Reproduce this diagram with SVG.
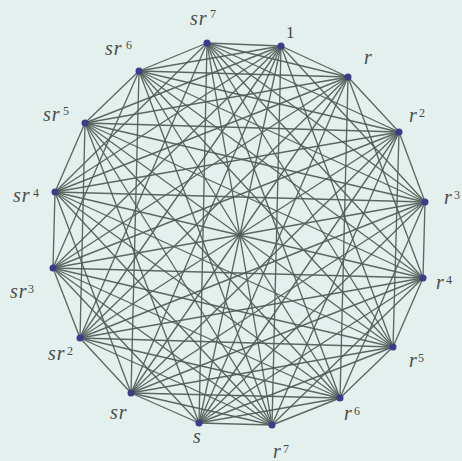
<svg xmlns="http://www.w3.org/2000/svg" width="462" height="461" viewBox="0 0 462 461">
<style>
.e{stroke:#505b56;stroke-width:1.35;stroke-opacity:0.92;fill:none}
.v{fill:#3c3c8c}
.l{font-family:"Liberation Serif","Times New Roman",serif;font-style:italic;font-size:20px;fill:#4a4a4a;letter-spacing:1px}
.p{font-style:normal;font-size:12px;letter-spacing:0}
.one{font-family:"Liberation Serif","Times New Roman",serif;font-size:17px;fill:#4a4a4a}
</style>
<rect width="462" height="461" fill="#e3f0ee"/>
<g id="edges">
<line class="e" x1="281" y1="46" x2="348" y2="77"/>
<line class="e" x1="281" y1="46" x2="425" y2="202"/>
<line class="e" x1="281" y1="46" x2="393" y2="347"/>
<line class="e" x1="281" y1="46" x2="272" y2="425"/>
<line class="e" x1="281" y1="46" x2="199" y2="423"/>
<line class="e" x1="281" y1="46" x2="131" y2="393"/>
<line class="e" x1="281" y1="46" x2="80" y2="338"/>
<line class="e" x1="281" y1="46" x2="53" y2="268"/>
<line class="e" x1="281" y1="46" x2="55" y2="192"/>
<line class="e" x1="281" y1="46" x2="85" y2="123"/>
<line class="e" x1="281" y1="46" x2="139" y2="71"/>
<line class="e" x1="281" y1="46" x2="207" y2="43"/>
<line class="e" x1="348" y1="77" x2="399" y2="132"/>
<line class="e" x1="348" y1="77" x2="423" y2="278"/>
<line class="e" x1="348" y1="77" x2="340" y2="398"/>
<line class="e" x1="348" y1="77" x2="199" y2="423"/>
<line class="e" x1="348" y1="77" x2="131" y2="393"/>
<line class="e" x1="348" y1="77" x2="80" y2="338"/>
<line class="e" x1="348" y1="77" x2="53" y2="268"/>
<line class="e" x1="348" y1="77" x2="55" y2="192"/>
<line class="e" x1="348" y1="77" x2="85" y2="123"/>
<line class="e" x1="348" y1="77" x2="139" y2="71"/>
<line class="e" x1="348" y1="77" x2="207" y2="43"/>
<line class="e" x1="399" y1="132" x2="425" y2="202"/>
<line class="e" x1="399" y1="132" x2="393" y2="347"/>
<line class="e" x1="399" y1="132" x2="272" y2="425"/>
<line class="e" x1="399" y1="132" x2="199" y2="423"/>
<line class="e" x1="399" y1="132" x2="131" y2="393"/>
<line class="e" x1="399" y1="132" x2="80" y2="338"/>
<line class="e" x1="399" y1="132" x2="53" y2="268"/>
<line class="e" x1="399" y1="132" x2="55" y2="192"/>
<line class="e" x1="399" y1="132" x2="85" y2="123"/>
<line class="e" x1="399" y1="132" x2="139" y2="71"/>
<line class="e" x1="399" y1="132" x2="207" y2="43"/>
<line class="e" x1="425" y1="202" x2="423" y2="278"/>
<line class="e" x1="425" y1="202" x2="340" y2="398"/>
<line class="e" x1="425" y1="202" x2="199" y2="423"/>
<line class="e" x1="425" y1="202" x2="131" y2="393"/>
<line class="e" x1="425" y1="202" x2="80" y2="338"/>
<line class="e" x1="425" y1="202" x2="53" y2="268"/>
<line class="e" x1="425" y1="202" x2="55" y2="192"/>
<line class="e" x1="425" y1="202" x2="85" y2="123"/>
<line class="e" x1="425" y1="202" x2="139" y2="71"/>
<line class="e" x1="425" y1="202" x2="207" y2="43"/>
<line class="e" x1="423" y1="278" x2="393" y2="347"/>
<line class="e" x1="423" y1="278" x2="272" y2="425"/>
<line class="e" x1="423" y1="278" x2="199" y2="423"/>
<line class="e" x1="423" y1="278" x2="131" y2="393"/>
<line class="e" x1="423" y1="278" x2="80" y2="338"/>
<line class="e" x1="423" y1="278" x2="53" y2="268"/>
<line class="e" x1="423" y1="278" x2="55" y2="192"/>
<line class="e" x1="423" y1="278" x2="85" y2="123"/>
<line class="e" x1="423" y1="278" x2="139" y2="71"/>
<line class="e" x1="423" y1="278" x2="207" y2="43"/>
<line class="e" x1="393" y1="347" x2="340" y2="398"/>
<line class="e" x1="393" y1="347" x2="199" y2="423"/>
<line class="e" x1="393" y1="347" x2="131" y2="393"/>
<line class="e" x1="393" y1="347" x2="80" y2="338"/>
<line class="e" x1="393" y1="347" x2="53" y2="268"/>
<line class="e" x1="393" y1="347" x2="55" y2="192"/>
<line class="e" x1="393" y1="347" x2="85" y2="123"/>
<line class="e" x1="393" y1="347" x2="139" y2="71"/>
<line class="e" x1="393" y1="347" x2="207" y2="43"/>
<line class="e" x1="340" y1="398" x2="272" y2="425"/>
<line class="e" x1="340" y1="398" x2="199" y2="423"/>
<line class="e" x1="340" y1="398" x2="131" y2="393"/>
<line class="e" x1="340" y1="398" x2="80" y2="338"/>
<line class="e" x1="340" y1="398" x2="53" y2="268"/>
<line class="e" x1="340" y1="398" x2="55" y2="192"/>
<line class="e" x1="340" y1="398" x2="85" y2="123"/>
<line class="e" x1="340" y1="398" x2="139" y2="71"/>
<line class="e" x1="340" y1="398" x2="207" y2="43"/>
<line class="e" x1="272" y1="425" x2="199" y2="423"/>
<line class="e" x1="272" y1="425" x2="131" y2="393"/>
<line class="e" x1="272" y1="425" x2="80" y2="338"/>
<line class="e" x1="272" y1="425" x2="53" y2="268"/>
<line class="e" x1="272" y1="425" x2="55" y2="192"/>
<line class="e" x1="272" y1="425" x2="85" y2="123"/>
<line class="e" x1="272" y1="425" x2="139" y2="71"/>
<line class="e" x1="272" y1="425" x2="207" y2="43"/>
<line class="e" x1="199" y1="423" x2="131" y2="393"/>
<line class="e" x1="199" y1="423" x2="53" y2="268"/>
<line class="e" x1="199" y1="423" x2="85" y2="123"/>
<line class="e" x1="199" y1="423" x2="207" y2="43"/>
<line class="e" x1="131" y1="393" x2="80" y2="338"/>
<line class="e" x1="131" y1="393" x2="55" y2="192"/>
<line class="e" x1="131" y1="393" x2="139" y2="71"/>
<line class="e" x1="80" y1="338" x2="53" y2="268"/>
<line class="e" x1="80" y1="338" x2="85" y2="123"/>
<line class="e" x1="80" y1="338" x2="207" y2="43"/>
<line class="e" x1="53" y1="268" x2="55" y2="192"/>
<line class="e" x1="53" y1="268" x2="139" y2="71"/>
<line class="e" x1="55" y1="192" x2="85" y2="123"/>
<line class="e" x1="55" y1="192" x2="207" y2="43"/>
<line class="e" x1="85" y1="123" x2="139" y2="71"/>
<line class="e" x1="139" y1="71" x2="207" y2="43"/>
</g>
<g id="n-1"><circle class="v" cx="281" cy="46" r="3.5"/><text class="one" x="286" y="38">1</text></g>
<g id="n-r"><circle class="v" cx="348" cy="77" r="3.5"/><text class="l" x="364" y="64">r</text></g>
<g id="n-r2"><circle class="v" cx="399" cy="132" r="3.5"/><text class="l" x="409" y="122">r<tspan class="p" x="419" y="117">2</tspan></text></g>
<g id="n-r3"><circle class="v" cx="425" cy="202" r="3.5"/><text class="l" x="444" y="204">r<tspan class="p" x="454" y="199">3</tspan></text></g>
<g id="n-r4"><circle class="v" cx="423" cy="278" r="3.5"/><text class="l" x="436" y="289">r<tspan class="p" x="446" y="284">4</tspan></text></g>
<g id="n-r5"><circle class="v" cx="393" cy="347" r="3.5"/><text class="l" x="409" y="367">r<tspan class="p" x="418" y="362">5</tspan></text></g>
<g id="n-r6"><circle class="v" cx="340" cy="398" r="3.5"/><text class="l" x="344" y="420">r<tspan class="p" x="354" y="415">6</tspan></text></g>
<g id="n-r7"><circle class="v" cx="272" cy="425" r="3.5"/><text class="l" x="273" y="458">r<tspan class="p" x="283" y="453">7</tspan></text></g>
<g id="n-s"><circle class="v" cx="199" cy="423" r="3.5"/><text class="l" x="193" y="443">s</text></g>
<g id="n-sr"><circle class="v" cx="131" cy="393" r="3.5"/><text class="l" x="110" y="419">sr</text></g>
<g id="n-sr2"><circle class="v" cx="80" cy="338" r="3.5"/><text class="l" x="48" y="360">sr<tspan class="p" x="67" y="355">2</tspan></text></g>
<g id="n-sr3"><circle class="v" cx="53" cy="268" r="3.5"/><text class="l" x="10" y="298">sr<tspan class="p" x="28" y="293">3</tspan></text></g>
<g id="n-sr4"><circle class="v" cx="55" cy="192" r="3.5"/><text class="l" x="13" y="202">sr<tspan class="p" x="33" y="197">4</tspan></text></g>
<g id="n-sr5"><circle class="v" cx="85" cy="123" r="3.5"/><text class="l" x="43" y="121">sr<tspan class="p" x="63" y="115">5</tspan></text></g>
<g id="n-sr6"><circle class="v" cx="139" cy="71" r="3.5"/><text class="l" x="105" y="55">sr<tspan class="p" x="126" y="49">6</tspan></text></g>
<g id="n-sr7"><circle class="v" cx="207" cy="43" r="3.5"/><text class="l" x="190" y="25">sr<tspan class="p" x="210" y="18">7</tspan></text></g>
</svg>
